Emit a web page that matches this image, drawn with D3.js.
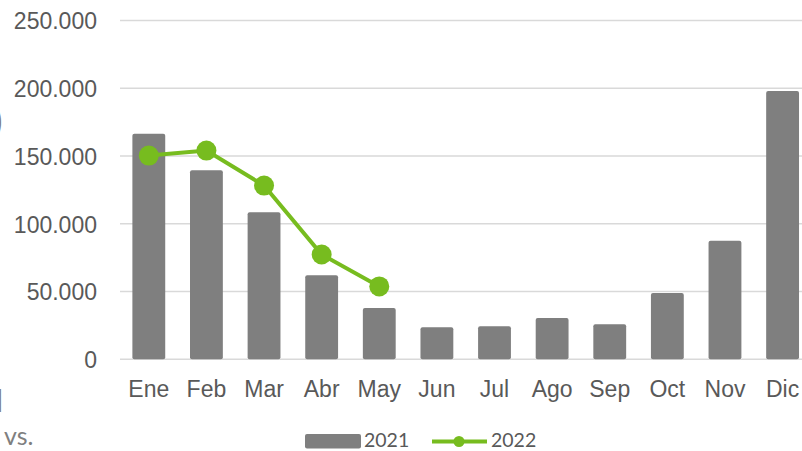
<!DOCTYPE html>
<meta charset="utf-8">
<style>
  body { margin: 0; background: #fff; }
  svg { display: block; font-family: Lato, "Open Sans", sans-serif; }
  .grid line { stroke: #d9d9d9; stroke-width: 1.5px; }
  .axis text { fill: #595959; }
</style>
<body>
<script src="https://d3js.org/d3.v7.min.js"></script>
<script>
// data
var months = ["Ene", "Feb", "Mar", "Abr", "May", "Jun", "Jul", "Ago", "Sep", "Oct", "Nov", "Dic"];
var values2021 = [166500, 139500, 108500, 62000, 37800, 23600, 24300, 30400, 25800, 49000, 87500, 198000];
var values2022 = [150300, 154000, 128200, 77300, 53800];
var yTicks = [0, 50000, 100000, 150000, 200000, 250000];

var width = 802, height = 451;

var svg = d3.select("body").append("svg")
  .attr("width", width)
  .attr("height", height);

// scales
var x = d3.scaleBand().domain(months).range([120, 811.4]).paddingInner(0.43).paddingOuter(0.215);
var y = d3.scaleLinear().domain([0, 250000]).range([359.3, 20.5]);

var fmt = function (d) { return d3.format(",")(d).replace(/,/g, "."); };

// gridlines
svg.append("g").attr("class", "grid")
  .selectAll("line").data(yTicks).join("line")
  .attr("x1", 120).attr("x2", width)
  .attr("y1", function (d) { return y(d); })
  .attr("y2", function (d) { return y(d); });

// y axis labels
var yAxis = svg.append("g").attr("class", "axis")
  .attr("transform", "translate(120,0)")
  .call(d3.axisLeft(y).tickValues(yTicks).tickFormat(fmt).tickSize(0).tickPadding(23));
yAxis.select(".domain").remove();
yAxis.selectAll("text").style("font-size", "23px").attr("dy", "0.36em");

// x axis labels
var xAxis = svg.append("g").attr("class", "axis")
  .attr("transform", "translate(0,359.3)")
  .call(d3.axisBottom(x).tickSize(0).tickPadding(21));
xAxis.select(".domain").remove();
xAxis.selectAll("text").style("font-size", "23px");

// bars 2021
svg.append("g")
  .selectAll("rect").data(values2021).join("rect")
  .attr("x", function (d, i) { return x(months[i]); })
  .attr("width", x.bandwidth())
  .attr("y", function (d) { return y(d); })
  .attr("height", function (d) { return y(0) - y(d); })
  .attr("rx", 2)
  .attr("fill", "#7f7f7f");

// line 2022
var line = d3.line()
  .x(function (d, i) { return x(months[i]) + x.bandwidth() / 2; })
  .y(function (d) { return y(d); });

svg.append("path")
  .datum(values2022)
  .attr("d", line)
  .attr("fill", "none")
  .attr("stroke", "#77bc1f")
  .attr("stroke-width", 4);

svg.append("g")
  .selectAll("circle").data(values2022).join("circle")
  .attr("cx", function (d, i) { return x(months[i]) + x.bandwidth() / 2; })
  .attr("cy", function (d) { return y(d); })
  .attr("r", 10)
  .attr("fill", "#77bc1f");

// legend
var legend = svg.append("g");
legend.append("rect")
  .attr("x", 305).attr("y", 434).attr("width", 56).attr("height", 14.5)
  .attr("rx", 2).attr("fill", "#7f7f7f");
legend.append("text")
  .attr("x", 364).attr("y", 447)
  .attr("fill", "#595959").style("font-size", "19.5px")
  .text("2021");
legend.append("line")
  .attr("x1", 432).attr("x2", 487).attr("y1", 441.5).attr("y2", 441.5)
  .attr("stroke", "#77bc1f").attr("stroke-width", 4);
legend.append("circle")
  .attr("cx", 459).attr("cy", 441.5).attr("r", 5.5).attr("fill", "#77bc1f");
legend.append("text")
  .attr("x", 491).attr("y", 447)
  .attr("fill", "#595959").style("font-size", "19.5px")
  .text("2022");

// bits of a title cut off at the left edge
svg.append("text")
  .attr("x", -7).attr("y", 134)
  .attr("fill", "#7f7f7f").style("font-size", "36px")
  .text(")");
svg.append("text")
  .attr("x", -4).attr("y", 412)
  .attr("fill", "#7f7f7f").style("font-size", "30px")
  .text("l");
svg.append("text")
  .attr("x", 4).attr("y", 445)
  .attr("fill", "#7f7f7f").style("font-size", "25px")
  .text("vs.");
</script>
</body>
